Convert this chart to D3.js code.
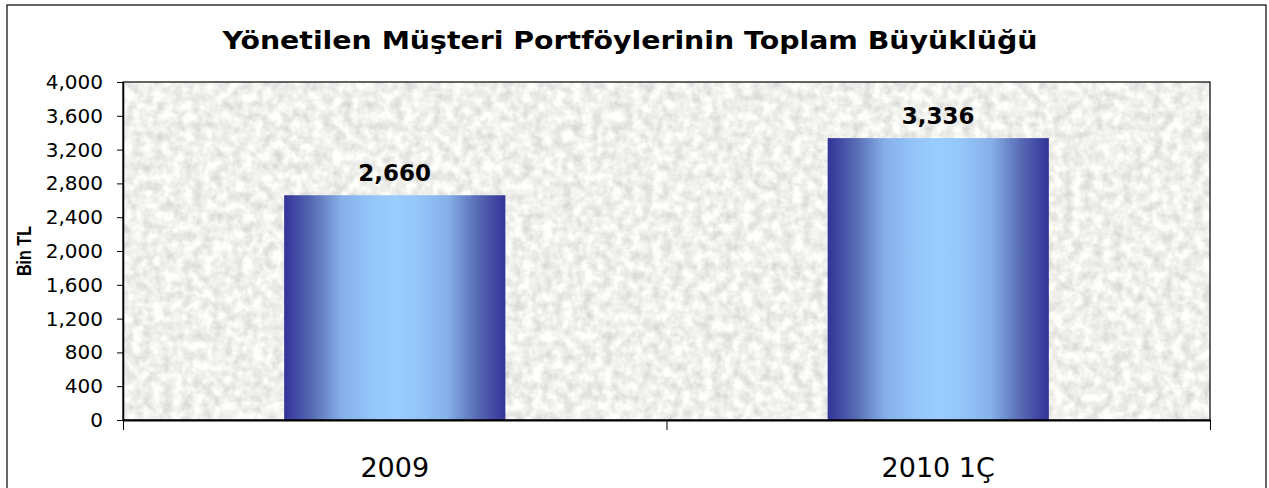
<!DOCTYPE html>
<html>
<head>
<meta charset="utf-8">
<script src="https://cdn.jsdelivr.net/npm/d3@7"></script>
<style>
  body { margin: 0; background: #fff; }
  .axis path, .axis line { stroke: #000; }
  .axis text { font-family: "DejaVu Sans", Verdana, sans-serif; font-size: 20px; fill: #000; }
</style>
</head>
<body>
<svg id="barChart" width="1269" height="488"></svg>
<script>
// chart values
var categories = ["2009", "2010 1Ç"];
var values = [2660, 3336];
var yTicks = [0, 400, 800, 1200, 1600, 2000, 2400, 2800, 3200, 3600, 4000];
var titleText = "Yönetilen Müşteri Portföylerinin Toplam Büyüklüğü";
var yTitle = "Bin TL";

var data = categories.map(function(c, i) {
  return { cat: c, value: values[i] };
});

var svg = d3.select("#barChart"),
  margin = { top: 82, right: 59, bottom: 68, left: 123 };

var width = +svg.attr("width") - margin.left - margin.right,
  height = +svg.attr("height") - margin.top - margin.bottom;

var defs = svg.append("defs");

// bar gradient: dark edges, light centre
var grad = defs.append("linearGradient")
  .attr("id", "barGrad")
  .attr("x1", "0%").attr("x2", "100%")
  .attr("y1", "0%").attr("y2", "0%");
[[0, "#333399"], [0.12, "#5567b2"], [0.26, "#86b0e8"], [0.4, "#94c6fa"], [0.5, "#99ccff"],
 [0.6, "#94c6fa"], [0.74, "#86b0e8"], [0.88, "#5567b2"], [1, "#333399"]].forEach(function(s) {
  grad.append("stop").attr("offset", s[0]).attr("stop-color", s[1]);
});

// grey marble texture for plot area
var filt = defs.append("filter")
  .attr("id", "marble")
  .attr("x", 0).attr("y", 0).attr("width", 1).attr("height", 1)
  .attr("color-interpolation-filters", "sRGB");
filt.append("feTurbulence")
  .attr("type", "fractalNoise")
  .attr("baseFrequency", "0.1")
  .attr("numOctaves", 4)
  .attr("seed", 3);
filt.append("feColorMatrix")
  .attr("type", "matrix")
  .attr("values", "0.26 0 0 0 0.81  0.26 0 0 0 0.81  0.24 0 0 0 0.81  0 0 0 0 1");

// outer frame
svg.append("rect")
  .attr("x", 7).attr("y", 5)
  .attr("width", 1259).attr("height", 495)
  .attr("fill", "none")
  .attr("stroke", "#000")
  .attr("stroke-width", 1.2);

svg.append("text")
  .attr("x", 630)
  .attr("y", 49)
  .attr("text-anchor", "middle")
  .attr("textLength", 815)
  .attr("lengthAdjust", "spacingAndGlyphs")
  .style("font-family", "'DejaVu Sans', Verdana, sans-serif")
  .style("font-weight", "bold")
  .style("font-size", "24px")
  .text(titleText);

var x = d3.scaleBand()
  .domain(categories)
  .range([0, width])
  .paddingInner(0.593)
  .paddingOuter(0.2965);

var xEdge = d3.scaleLinear().domain([0, categories.length]).range([0, width]);

var y = d3.scaleLinear().domain([0, 4000]).range([height, 0]);

var g = svg.append("g")
  .attr("transform", "translate(" + margin.left + "," + margin.top + ")");

g.append("rect")
  .attr("width", width)
  .attr("height", height)
  .attr("fill", "#ebebeb")
  .attr("filter", "url(#marble)");

g.selectAll(".bar")
  .data(data)
  .enter().append("rect")
  .attr("class", "bar")
  .attr("x", function(d) { return x(d.cat); })
  .attr("y", function(d) { return y(d.value); })
  .attr("width", x.bandwidth())
  .attr("height", function(d) { return height - y(d.value); })
  .attr("fill", "url(#barGrad)");

g.selectAll(".val")
  .data(data)
  .enter().append("text")
  .attr("class", "val")
  .attr("x", function(d) { return x(d.cat) + x.bandwidth() / 2; })
  .attr("y", function(d) { return y(d.value) - 14; })
  .attr("text-anchor", "middle")
  .style("font-family", "'DejaVu Sans', Verdana, sans-serif")
  .style("font-weight", "bold")
  .style("font-size", "23px")
  .text(function(d) { return d3.format(",")(d.value); });

// plot border (top/right)
g.append("rect")
  .attr("width", width)
  .attr("height", height)
  .attr("fill", "none")
  .attr("stroke", "#000")
  .attr("stroke-width", 1.2);

g.append("g")
  .attr("class", "axis axis--y")
  .call(d3.axisLeft(y).tickValues(yTicks).tickFormat(d3.format(",")).tickSize(6).tickSizeOuter(0).tickPadding(14))
  .select(".domain").attr("stroke-width", 1.5);

g.append("g")
  .attr("class", "axis axis--x")
  .attr("transform", "translate(0," + height + ")")
  .call(d3.axisBottom(xEdge).tickValues([0, 1, 2]).tickFormat("").tickSize(10).tickSizeOuter(0))
  .select(".domain").attr("stroke-width", 2);

g.selectAll(".cat")
  .data(categories)
  .enter().append("text")
  .attr("class", "cat")
  .attr("x", function(d) { return x(d) + x.bandwidth() / 2; })
  .attr("y", height + 57)
  .attr("text-anchor", "middle")
  .style("font-family", "'DejaVu Sans', Verdana, sans-serif")
  .style("font-size", "27px")
  .text(function(d) { return d; });

svg.append("text")
  .attr("transform", "rotate(-90)")
  .attr("x", -(margin.top + height / 2))
  .attr("y", 31)
  .attr("text-anchor", "middle")
  .attr("textLength", 50)
  .attr("lengthAdjust", "spacingAndGlyphs")
  .style("font-family", "'Liberation Sans', Arial, sans-serif")
  .style("font-weight", "bold")
  .style("font-size", "20px")
  .text(yTitle);
</script>
</body>
</html>
